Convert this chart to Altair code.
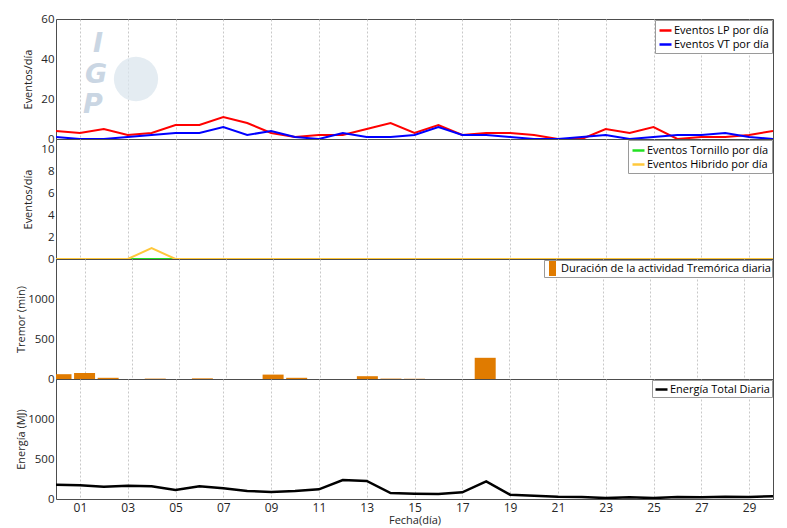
import altair as alt
import pandas as pd

# ---------------- data ----------------
days = list(range(0, 31))
labeled_days = [1, 3, 5, 7, 9, 11, 13, 15, 17, 19, 21, 23, 25, 27, 29]

lp_events = [4, 3, 5, 2, 3, 7, 7, 11, 8, 3, 1, 2, 2, 5, 8, 3, 7, 2, 3, 3, 2, 0, 0, 5, 3, 6, 0, 1, 1, 2, 4]
vt_events = [1, 0, 0, 1, 2, 3, 3, 6, 2, 4, 1, 0, 3, 1, 1, 2, 6, 2, 2, 1, 0, 0, 1, 2, 0, 1, 2, 2, 3, 1, 0]
tornillo_events = [0, 0, 0, 0, 0, 0, 0, 0, 0, 0, 0, 0, 0, 0, 0, 0, 0, 0, 0, 0, 0, 0, 0, 0, 0, 0, 0, 0, 0, 0, 0]
hibrido_events = [0, 0, 0, 0, 1, 0, 0, 0, 0, 0, 0, 0, 0, 0, 0, 0, 0, 0, 0, 0, 0, 0, 0, 0, 0, 0, 0, 0, 0, 0, 0]
tremor_minutes = [60, 75, 15, 0, 5, 0, 8, 0, 0, 55, 15, 0, 0, 35, 5, 3, 0, 0, 265, 0, 0, 0, 0, 0, 0, 0, 0, 0, 0, 0, 0]
energy_mj = [179, 171, 154, 166, 159, 112, 159, 134, 100, 88, 100, 121, 237, 225, 75, 66, 62, 84, 221, 54,
             41, 29, 25, 12, 21, 12, 25, 21, 29, 25, 34]

series_lp = ["Eventos LP por día", "Eventos VT por día"]
series_th = ["Eventos Tornillo por día", "Eventos Hibrido por día"]
series_tremor = ["Duración de la actividad Tremórica diaria"]
series_energy = ["Energía Total Diaria"]
watermark_letters = ["I", "G", "P"]

# ---------------- style ----------------
FONT = "Open Sans"
TXT = "#262626"
W, H = 717, 120

x_scale = alt.Scale(domain=[0, 30], nice=False, zero=False)


def x_axis(show):
    if show:
        return alt.Axis(values=labeled_days, grid=True, gridColor="#c8c8c8", gridDash=[2, 2],
                        domain=False, ticks=False, labels=True,
                        labelExpr="datum.value < 10 ? '0' + datum.value : '' + datum.value",
                        labelFontSize=12, labelColor=TXT, labelPadding=3, labelFont=FONT,
                        title="Fecha(día)", titleFontSize=11, titleFontWeight="normal",
                        titleColor=TXT, titlePadding=1, titleFont=FONT)
    return alt.Axis(values=labeled_days, grid=True, gridColor="#c8c8c8", gridDash=[2, 2],
                    domain=False, ticks=False, labels=False, title=None)


def y_axis(title, vals, tx):
    return alt.Axis(title=title, values=vals, format="d", grid=False, domain=False, ticks=False,
                    labelFontSize=11.5, labelColor=TXT, labelPadding=2, labelFont=FONT,
                    titleFontSize=11, titleFontWeight="normal", titleColor=TXT,
                    titleX=tx, titleBaseline="middle", titleFont=FONT)


def legend(symbol, size=144, stroke_w=2.5, pad=3):
    return alt.Legend(title=None, orient="top-right", offset=1, padding=pad,
                      strokeColor="#9a9a9a", fillColor="white", cornerRadius=0,
                      labelFont=FONT, labelFontSize=11, labelColor="black", labelLimit=400,
                      symbolType=symbol, symbolSize=size, symbolStrokeWidth=stroke_w,
                      labelOffset=1, rowPadding=1)


# ---------------- panel 1 ----------------
df1 = pd.DataFrame({
    "dia": days + days,
    "valor": lp_events + vt_events,
    "serie": [series_lp[0]] * len(days) + [series_lp[1]] * len(days),
})
lines1 = alt.Chart(df1).mark_line(strokeWidth=2, clip=True).encode(
    x=alt.X("dia:Q", scale=x_scale, axis=x_axis(False)),
    y=alt.Y("valor:Q", scale=alt.Scale(domain=[0, 60], nice=False),
            axis=y_axis("Eventos/día", [0, 20, 40, 60], -28)),
    color=alt.Color("serie:N", scale=alt.Scale(domain=series_lp, range=["#ff0000", "#0000ff"]),
                    legend=legend("stroke")),
)

globe = alt.Chart(pd.DataFrame({"t": ["IGP"]})).mark_circle(
    size=1960, color="#dbe5ee", opacity=0.75
).encode(x=alt.value(80), y=alt.value(60))

wm_pos = [(42, 25), (40, 56), (37, 86)]
wm_layers = [globe]
for letter, (px, py) in zip(watermark_letters, wm_pos):
    wm_layers.append(
        alt.Chart(pd.DataFrame({"t": [letter]})).mark_text(
            font="DejaVu Sans", fontSize=27, fontWeight="bold", fontStyle="italic",
            color="#cad6e3", align="center", baseline="middle"
        ).encode(text="t:N", x=alt.value(px), y=alt.value(py))
    )
p1 = alt.layer(*wm_layers, lines1).properties(width=W, height=H)

# ---------------- panel 2 ----------------
df2 = pd.DataFrame({
    "dia": days + days,
    "valor": tornillo_events + hibrido_events,
    "serie": [series_th[0]] * len(days) + [series_th[1]] * len(days),
})
p2 = alt.Chart(df2).mark_line(strokeWidth=2, clip=True).encode(
    x=alt.X("dia:Q", scale=x_scale, axis=x_axis(False)),
    y=alt.Y("valor:Q", scale=alt.Scale(domain=[0, 11], nice=False),
            axis=y_axis("Eventos/día", [0, 2, 4, 6, 8, 10], -28)),
    color=alt.Color("serie:N", scale=alt.Scale(domain=series_th, range=["#22e022", "#ffc83c"]),
                    legend=legend("stroke")),
).properties(width=W, height=H)

# ---------------- panel 3 ----------------
df3 = pd.DataFrame({"dia": days, "valor": tremor_minutes, "serie": series_tremor * len(days)})
p3 = alt.Chart(df3).mark_bar(size=21, clip=True).encode(
    x=alt.X("dia:Q", scale=x_scale, axis=x_axis(False)),
    y=alt.Y("valor:Q", scale=alt.Scale(domain=[0, 1500], nice=False),
            axis=y_axis("Tremor (min)", [0, 500, 1000], -35)),
    color=alt.Color("serie:N", scale=alt.Scale(domain=series_tremor, range=["#e07b00"]),
                    legend=legend("M-0.47,-1L0.47,-1L0.47,1L-0.47,1Z", size=225, stroke_w=0, pad=1)),
).properties(width=W, height=H)

# ---------------- panel 4 ----------------
df4 = pd.DataFrame({"dia": days, "valor": energy_mj, "serie": series_energy * len(days)})
p4 = alt.Chart(df4).mark_line(strokeWidth=2.5, clip=True).encode(
    x=alt.X("dia:Q", scale=x_scale, axis=x_axis(True)),
    y=alt.Y("valor:Q", scale=alt.Scale(domain=[0, 1500], nice=False),
            axis=y_axis("Energía (MJ)", [0, 500, 1000], -35)),
    color=alt.Color("serie:N", scale=alt.Scale(domain=series_energy, range=["#000000"]),
                    legend=legend("stroke", pad=2)),
).properties(width=W, height=H)

chart = alt.vconcat(p1, p2, p3, p4, spacing=0, bounds="flush").resolve_scale(
    color="independent", y="independent"
).resolve_legend(color="independent").configure(
    background="white",
    padding={"left": 6, "top": 4, "right": 5, "bottom": 2},
).configure_view(stroke="#4d4d4d", strokeWidth=1)

chart.save("out.html", embed_options={"renderer": "svg", "actions": False})
